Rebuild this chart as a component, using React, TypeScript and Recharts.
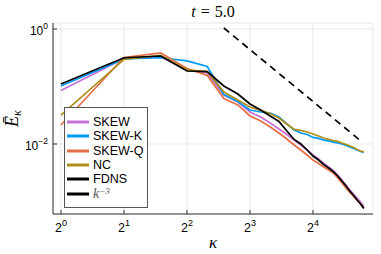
import React from 'react';
import { LineChart, Line, XAxis, YAxis, CartesianGrid, Legend } from 'recharts';

// wavenumbers
const kappa = [1, 2, 3, 4, 5, 6, 7, 8, 9, 10, 11, 12, 13, 14, 15, 16, 17, 18, 19, 20, 21, 22, 23, 24, 25, 26, 27, 28];

// energy spectra
const skew = [0.0852, 0.307, 0.326, 0.194, 0.172, 0.0712, 0.0537, 0.036, 0.0295, 0.0232, 0.0182, 0.0146, 0.0117, 0.0096,
  0.00786, 0.00644, 0.00548, 0.00458, 0.00398, 0.00346, 0.00289, 0.00237, 0.00194, 0.00158, 0.00135, 0.00115, 0.00098, 0.000818];
const skewK = [0.102, 0.301, 0.316, 0.278, 0.223, 0.0726, 0.0548, 0.039, 0.036, 0.0346, 0.0295, 0.0223, 0.0175, 0.0155,
  0.0146, 0.013, 0.0125, 0.0117, 0.0113, 0.0108, 0.0104, 0.01, 0.00942, 0.00887, 0.00835, 0.00786, 0.0074, 0.00712];
const skewQ = [0.0214, 0.319, 0.383, 0.206, 0.155, 0.0618, 0.0477, 0.0307, 0.0251, 0.0198, 0.0155, 0.0122, 0.0096, 0.00786,
  0.00644, 0.00527, 0.00458, 0.00398, 0.00353, 0.00313, 0.00256, 0.0021, 0.00172, 0.00143, 0.00122, 0.00106, 0.000905, 0.000786];
const nc = [0.0319, 0.295, 0.346, 0.194, 0.182, 0.0802, 0.0582, 0.044, 0.0383, 0.0339, 0.0283, 0.0223, 0.0179, 0.0172,
  0.0162, 0.0149, 0.0138, 0.0127, 0.012, 0.0115, 0.0111, 0.0104, 0.0098, 0.00923, 0.00869, 0.00802, 0.00755, 0.00726];
const fdns = [0.1105, 0.316, 0.339, 0.186, 0.182, 0.102, 0.0741, 0.0496, 0.039, 0.0307, 0.0246, 0.0168, 0.012, 0.01,
  0.00786, 0.00618, 0.00527, 0.0044, 0.00382, 0.00332, 0.00278, 0.00227, 0.00186, 0.00152, 0.00127, 0.00106, 0.000905, 0.000755];

// k^-3 reference slope
const refK = [6, 27];
const refE = [1.04, 0.0114];

const xTicks = [1, 2, 4, 8, 16];
const xTickExp = ['0', '1', '2', '3', '4'];
const yTicks = [1, 0.01];
const yTickExp = ['0', '\u22122'];

const seriesNames = ['SKEW', 'SKEW-K', 'SKEW-Q', 'NC', 'FDNS', 'k^-3'];

const data = kappa.map((k, i) => ({ k, skew: skew[i], skewK: skewK[i], skewQ: skewQ[i], nc: nc[i], fdns: fdns[i] }));
const refData = refK.map((k, i) => ({ k, ref: refE[i] }));

const axisColor = '#333';
const gridColor = '#e8e8e8';
const tickFont = "'Liberation Sans', Arial, sans-serif";
const mathFont = "'Liberation Serif', 'DejaVu Serif', serif";

const XTick = (props: any) => {
  const { x, y, payload } = props;
  const i = xTicks.indexOf(payload.value);
  return (
    <g>
      <line x1={x} x2={x} y1={y} y2={y - 4} stroke={axisColor} strokeWidth={1} />
      <text x={x} y={y + 17.5} textAnchor="middle" fontFamily={tickFont} fontSize={12.5} fill="#000">
        <tspan>2</tspan>
        <tspan dy={-6} fontSize={9}>{xTickExp[i]}</tspan>
      </text>
    </g>
  );
};

const YTick = (props: any) => {
  const { x, y, payload } = props;
  const i = yTicks.indexOf(payload.value);
  return (
    <g>
      <line x1={x} x2={x + 4} y1={y} y2={y} stroke={axisColor} strokeWidth={1} />
      <text x={x - 5} y={y + 6} textAnchor="end" fontFamily={tickFont} fontSize={12} fill="#000">
        <tspan>10</tspan>
        <tspan dy={-6} fontSize={8.5}>{yTickExp[i]}</tspan>
      </text>
    </g>
  );
};

const XLabel = (props: any) => {
  const { viewBox } = props;
  const cx = viewBox.x + viewBox.width / 2;
  return (
    <text x={cx} y={viewBox.y + 34} textAnchor="middle" fontFamily={mathFont} fontStyle="italic" fontSize={17} fill="#000">
      κ
    </text>
  );
};

const YLabel = (props: any) => {
  const { viewBox } = props;
  const cx = 18;
  const cy = viewBox.y + viewBox.height / 2;
  return (
    <text x={cx} y={cy} transform={`rotate(-90, ${cx}, ${cy})`} textAnchor="middle" fontFamily={mathFont} fontStyle="italic" fontSize={18} fill="#000">
      <tspan>Ē</tspan>
      <tspan dy={3} fontSize={12}>κ</tspan>
    </text>
  );
};

const renderLegend = (props: any) => {
  const payload = [...(props.payload || [])].sort(
    (a: any, b: any) => seriesNames.indexOf(a.value) - seriesNames.indexOf(b.value)
  );
  return (
    <div style={{ width: 84, height: 101, boxSizing: 'border-box', border: '1px solid #555', background: '#fff', paddingTop: 7 }}>
      {payload.map((entry: any) => (
        <div key={entry.value} style={{ display: 'flex', alignItems: 'center', height: 14.3 }}>
          <svg width={26} height={4} style={{ marginLeft: 2, display: 'block' }}>
            <line x1={0} x2={22} y1={2} y2={2} stroke={entry.color} strokeWidth={3} />
          </svg>
          {entry.value === 'k^-3' ? (
            <span style={{ fontFamily: mathFont, fontStyle: 'italic', fontSize: 14, lineHeight: '14px', color: '#555' }}>
              k<sup style={{ fontSize: 9, verticalAlign: 'top', lineHeight: '9px' }}>{'\u22123'}</sup>
            </span>
          ) : (
            <span style={{ fontFamily: tickFont, fontSize: 12.5, lineHeight: '14px', color: '#000' }}>{entry.value}</span>
          )}
        </div>
      ))}
    </div>
  );
};

export default function App() {
  return (
    <div style={{ position: 'absolute', left: 0, top: 0, width: 381, height: 254, background: '#fff' }}>
      <LineChart width={381} height={254} data={data} margin={{ top: 23, right: 8, bottom: 0, left: 0 }}>
        <CartesianGrid stroke={gridColor} strokeWidth={1} />
        <XAxis
          dataKey="k"
          type="number"
          scale="log"
          domain={[0.916, 30.96]}
          allowDataOverflow
          ticks={xTicks}
          height={40}
          tickSize={0}
          tickMargin={0}
          tick={<XTick />}
          stroke={axisColor}
          label={<XLabel />}
        />
        <YAxis
          type="number"
          scale="log"
          domain={[0.000606, 1.271]}
          allowDataOverflow
          ticks={yTicks}
          width={53}
          tickSize={0}
          tickMargin={0}
          tick={<YTick />}
          stroke={axisColor}
          label={<YLabel />}
        />
        <Legend
          layout="vertical"
          align="center"
          verticalAlign="middle"
          content={renderLegend}
          wrapperStyle={{ left: 64, top: 107, width: 84, height: 101 }}
        />
        <Line name="SKEW" dataKey="skew" stroke="#C371D2" strokeWidth={1.7} dot={false} isAnimationActive={false} />
        <Line name="SKEW-K" dataKey="skewK" stroke="#009AFA" strokeWidth={1.7} dot={false} isAnimationActive={false} />
        <Line name="SKEW-Q" dataKey="skewQ" stroke="#E36F47" strokeWidth={1.7} dot={false} isAnimationActive={false} />
        <Line name="NC" dataKey="nc" stroke="#AC8E18" strokeWidth={1.7} dot={false} isAnimationActive={false} />
        <Line name="FDNS" dataKey="fdns" stroke="#000" strokeWidth={1.7} dot={false} isAnimationActive={false} />
        <Line name="k^-3" data={refData} dataKey="ref" stroke="#000" strokeWidth={1.7} strokeDasharray="7 5" dot={false} isAnimationActive={false} />
      </LineChart>
      <svg width={381} height={30} style={{ position: 'absolute', left: 0, top: 0, pointerEvents: 'none' }}>
        <text x={213} y={17} textAnchor="middle" fontFamily={mathFont} fontSize={16} fill="#000">
          <tspan fontStyle="italic">t</tspan>
          <tspan dx={5}>=</tspan>
          <tspan dx={5}>5.0</tspan>
        </text>
      </svg>
    </div>
  );
}
